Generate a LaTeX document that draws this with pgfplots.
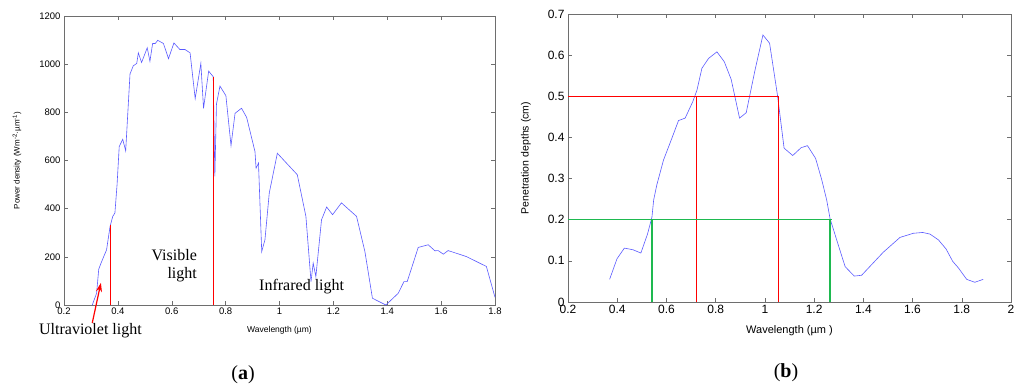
\documentclass[border=0pt]{standalone}
\usepackage{pgfplots}
\pgfplotsset{compat=1.18}
\usepackage{fontspec}
\setmainfont{Liberation Serif}
\setsansfont{Liberation Sans}
\newfontfamily\axfont{Liberation Sans}
\usetikzlibrary{arrows.meta}
\definecolor{curve}{RGB}{90,90,255}
\definecolor{gline}{RGB}{30,185,80}
\definecolor{axgray}{RGB}{110,110,110}
\pgfplotsset{
  mstyle/.style={
    scale only axis,
    clip=false,
    axis line style={axgray, line width=0.6pt},
    tick style={axgray, line width=0.5pt},
    major tick length=4pt,
    tick align=inside,
    /pgf/number format/assume math mode=true,
    /pgf/number format/1000 sep={},
    tick label style={font=\axfont\fontsize{9.5}{10}\selectfont, black},
    label style={font=\axfont\fontsize{8.5}{10}\selectfont, black},
  }
}
\begin{document}
\begin{tikzpicture}
\path[use as bounding box] (0pt,0pt) rectangle (1024pt,391pt);
% ---------- (a)
\begin{axis}[mstyle,
  at={(64pt,86pt)}, anchor=south west,
  width=431pt, height=289pt,
  xmin=0.2, xmax=1.8, ymin=0, ymax=1200,
  xtick={0.2,0.4,...,1.8}, ytick={0,200,...,1200},
  xticklabel style={yshift=1pt},
  xlabel={Wavelength (µm)},
  ylabel={Power density (Wm\textsuperscript{-2}·µm\textsuperscript{-1})},
  xlabel style={at={(axis description cs:0.5,0)}, anchor=center, yshift=-25pt},
  ylabel style={at={(axis description cs:0,0.5)}, anchor=center, yshift=47pt, font=\axfont\fontsize{8}{10}\selectfont},
]
\addplot[curve, line width=0.6pt] coordinates {
(0.305,0)(0.321,49)(0.329,149)(0.340,181)(0.358,229)(0.371,326)(0.381,368)(0.389,382)
(0.397,500)(0.405,658)(0.418,688)(0.429,640)(0.445,959)(0.457,993)(0.470,1003)(0.476,1047)
(0.488,1007)(0.509,1068)(0.519,1012)(0.529,1086)(0.539,1086)(0.548,1099)(0.569,1086)
(0.588,1023)(0.608,1088)(0.630,1061)(0.649,1061)(0.668,1047)(0.687,857)(0.708,1003)
(0.718,817)(0.737,971)(0.754,948)(0.760,534)(0.766,834)(0.779,909)(0.801,869)(0.820,662)
(0.835,796)(0.859,817)(0.878,779)(0.909,637)(0.913,568)(0.922,589)(0.934,222)(0.946,271)
(0.962,465)(0.992,630)(1.026,589)(1.066,541)(1.098,368)(1.117,97)(1.125,174)(1.135,118)
(1.156,354)(1.175,407)(1.197,375)(1.230,424)(1.286,368)(1.317,222)(1.345,28)(1.395,0)
(1.441,49)(1.462,97)(1.474,97)(1.515,239)(1.552,250)(1.577,225)(1.589,226)(1.608,211)
(1.626,226)(1.694,201)(1.768,160)(1.800,32)};
\addplot[red, line width=1.3pt] coordinates {(0.373,0)(0.373,333)};
\addplot[red, line width=1.3pt] coordinates {(0.756,0)(0.756,948)};
\addplot[red, line width=1.2pt, -{Stealth[length=9pt,width=6pt]}] coordinates {(0.305,-74)(0.337,92)};
\node[anchor=east, font=\fontsize{16}{17}\selectfont, inner sep=0pt] at (axis cs:0.694,208) {Visible};
\node[anchor=east, font=\fontsize{16}{17}\selectfont, inner sep=0pt] at (axis cs:0.694,125) {light};
\node[anchor=west, font=\fontsize{16}{17}\selectfont, inner sep=0pt] at (axis cs:0.924,75) {Infrared light};
\node[anchor=west, font=\fontsize{16}{17}\selectfont, inner sep=0pt] at (axis cs:0.107,-108) {Ultraviolet light};
\end{axis}
% ---------- (b)
\begin{axis}[mstyle,
  at={(568pt,89pt)}, anchor=south west,
  width=443pt, height=288pt,
  xmin=0.2, xmax=2, ymin=0, ymax=0.7,
  xtick={0.2,0.4,...,2.0}, ytick={0,0.1,...,0.7},
  tick label style={font=\axfont\fontsize{12}{13}\selectfont},
  yticklabel style={/pgf/number format/fixed, /pgf/number format/precision=1},
  xlabel={Wavelength (µm )},
  ylabel={Penetration depths (cm)},
  label style={font=\axfont\fontsize{11}{12}\selectfont},
  xlabel style={at={(axis description cs:0.5,0)}, anchor=center, yshift=-29pt},
  ylabel style={at={(axis description cs:0,0.5)}, anchor=center, yshift=42pt, font=\axfont\fontsize{10.5}{12}\selectfont},
]
\addplot[curve, line width=0.6pt] coordinates {
(0.369,0.055)(0.399,0.105)(0.429,0.131)(0.464,0.127)(0.496,0.119)(0.523,0.165)(0.541,0.206)
(0.548,0.248)(0.561,0.285)(0.588,0.345)(0.622,0.398)(0.649,0.441)(0.676,0.447)(0.707,0.487)
(0.724,0.515)(0.744,0.568)(0.771,0.592)(0.805,0.608)(0.835,0.584)(0.863,0.541)(0.897,0.447)
(0.924,0.460)(0.960,0.564)(0.992,0.649)(1.019,0.629)(1.051,0.503)(1.078,0.374)(1.113,0.356)
(1.147,0.375)(1.173,0.380)(1.206,0.349)(1.231,0.297)(1.251,0.248)(1.265,0.202)(1.299,0.137)
(1.326,0.086)(1.363,0.063)(1.393,0.065)(1.481,0.121)(1.549,0.157)(1.603,0.167)(1.641,0.169)
(1.671,0.165)(1.705,0.151)(1.736,0.129)(1.763,0.099)(1.786,0.083)(1.820,0.055)(1.853,0.048)
(1.887,0.055)};
\addplot[red, line width=1.2pt] coordinates {(0.2,0.5)(1.055,0.5)};
\addplot[red, line width=1.2pt] coordinates {(0.721,0)(0.721,0.5)};
\addplot[red, line width=1.2pt] coordinates {(1.055,0)(1.055,0.5)};
\addplot[gline, line width=1.3pt] coordinates {(0.2,0.2)(1.274,0.2)};
\addplot[gline, line width=1.3pt] coordinates {(0.541,0)(0.541,0.2)};
\addplot[gline, line width=1.3pt] coordinates {(1.265,0)(1.265,0.2)};
\end{axis}
\node[font=\fontsize{20}{22}\selectfont] at (243pt,16pt) {(\textbf{a})};
\node[font=\fontsize{20}{22}\selectfont] at (786pt,18pt) {(\textbf{b})};
\end{tikzpicture}
\end{document}
